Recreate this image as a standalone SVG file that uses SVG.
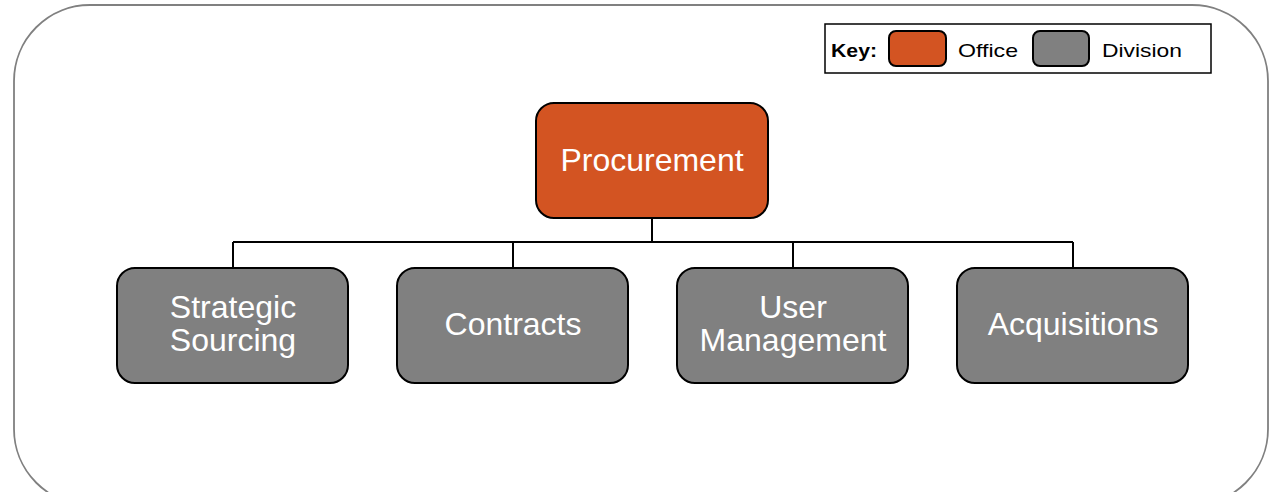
<svg xmlns="http://www.w3.org/2000/svg" width="1281" height="492" viewBox="0 0 1281 492">
  <style>
    .frame { fill: #ffffff; stroke: #808080; stroke-width: 1.8; }
    .office { fill: #D35422; stroke: #000000; stroke-width: 2; }
    .division { fill: #808080; stroke: #000000; stroke-width: 2; }
    .label { font-family: "Liberation Sans", Arial, sans-serif; font-size: 32px; fill: #ffffff; text-anchor: middle; }
    .key { font-family: "Liberation Sans", Arial, sans-serif; font-size: 19px; fill: #000000; }
    .conn { fill: none; stroke: #000000; stroke-width: 2; }
  </style>
  <rect class="frame" x="14" y="5" width="1254" height="500" rx="76" ry="76"/>
  <g id="key">
    <rect x="825" y="24" width="386" height="49" fill="#ffffff" stroke="#000000" stroke-width="1.5"/>
    <text class="key" x="831" y="57" font-weight="bold" textLength="46" lengthAdjust="spacingAndGlyphs">Key:</text>
    <rect class="office" x="889" y="31" width="57" height="35" rx="7" ry="7"/>
    <text class="key" x="958" y="57" textLength="60" lengthAdjust="spacingAndGlyphs">Office</text>
    <rect class="division" x="1033" y="31" width="56" height="35" rx="7" ry="7"/>
    <text class="key" x="1102" y="57" textLength="80" lengthAdjust="spacingAndGlyphs">Division</text>
  </g>
  <g id="connectors">
    <path class="conn" d="M652 218 V242 M233 242 H1073 M233 242 V268 M513 242 V268 M793 242 V268 M1073 242 V268"/>
  </g>
  <g id="procurement">
    <rect class="office" x="536" y="103" width="232" height="115" rx="18" ry="18"/>
    <text class="label" x="652" y="171">Procurement</text>
  </g>
  <g id="strategic-sourcing">
    <rect class="division" x="117" y="268" width="231" height="115" rx="18" ry="18"/>
    <text class="label" x="233" y="318">Strategic</text>
    <text class="label" x="233" y="351">Sourcing</text>
  </g>
  <g id="contracts">
    <rect class="division" x="397" y="268" width="231" height="115" rx="18" ry="18"/>
    <text class="label" x="513" y="335">Contracts</text>
  </g>
  <g id="user-management">
    <rect class="division" x="677" y="268" width="231" height="115" rx="18" ry="18"/>
    <text class="label" x="793" y="318">User</text>
    <text class="label" x="793" y="351">Management</text>
  </g>
  <g id="acquisitions">
    <rect class="division" x="957" y="268" width="231" height="115" rx="18" ry="18"/>
    <text class="label" x="1073" y="335">Acquisitions</text>
  </g>
</svg>
